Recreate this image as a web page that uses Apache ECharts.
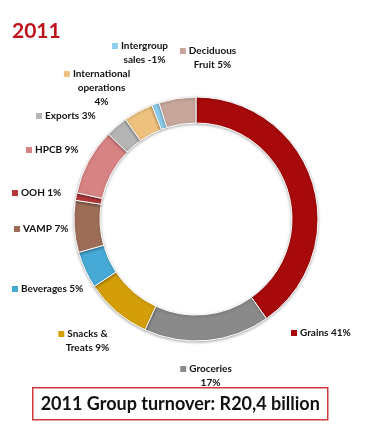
<!DOCTYPE html>
<html><head><meta charset="utf-8">
<script src="https://cdn.jsdelivr.net/npm/echarts@6/dist/echarts.min.js"></script>
<style>html,body{margin:0;padding:0;background:#fff;}#c{width:366px;height:434px;}</style>
</head><body><div id="c"></div>
<script>
const categories = ['Grains','Groceries','Snacks & Treats','Beverages','VAMP','OOH','HPCB','Exports','International operations','Intergroup sales','Deciduous Fruit'];
const labelLines = [['Grains 41%'],['Groceries','17%'],['Snacks &','Treats 9%'],['Beverages 5%'],['VAMP 7%'],['OOH 1%'],['HPCB 9%'],['Exports 3%'],['International','operations','4%'],['Intergroup','sales -1%'],['Deciduous','Fruit 5%']];
const shares = [41,17,9,5,7,1,9,3,4,-1,5];
const colors = ['#A80A0B','#8A8A8A','#D49E08','#47AAD6','#9E6D57','#B3393A','#D78384','#B4B4B4','#EEC17E','#8ECFEF','#C8A69B'];
// label placement: [x, yTop, align]
const labelPos = [[291,326,'left'],[206,362,'center'],[83,327,'center'],[12,282,'left'],[14,222,'left'],[12,186,'left'],[26,143,'left'],[36,109,'left'],[97,67,'center'],[140,39,'center'],[208,44,'center']];

const rich = { g:{width:3}, p:{width:9}, t:{fontFamily:'Lato',fontWeight:'bold',fontSize:10,color:'#111',lineHeight:14} };
colors.forEach((c,i)=>{ rich['m'+i] = {width:6,height:6,backgroundColor:c,verticalAlign:'middle'}; });

const data = categories.map((n,i)=>({
  name:n, value:Math.abs(shares[i]),
  itemStyle:{color:colors[i]},
  label:{formatter: labelLines[i].map((l,k)=> (k===0?'{m'+i+'|}{g|}':(labelPos[i][2]==='center'?'{p|}':'')) + '{t|'+l+'}').join('\n')}
}));

const chart = echarts.init(document.getElementById('c'));
chart.setOption({
  animation:false,
  title:{text:'2011',left:7,top:16,textStyle:{fontFamily:'Lato',fontWeight:'bold',fontSize:21,color:'#C0141B'}},
  series:[{
    type:'pie', center:[196,219], radius:[96,122], startAngle:90, clockwise:true,
    avoidLabelOverlap:false,
    itemStyle:{borderColor:'#fff',borderWidth:1,shadowBlur:3,shadowColor:'rgba(0,0,0,0.3)',shadowOffsetY:1},
    label:{show:true,position:'outside',rich:rich},
    labelLine:{show:false},
    labelLayout:function(p){ const lp=labelPos[p.dataIndex]; return {x:lp[0],y:lp[1],align:lp[2],verticalAlign:'top'}; },
    emphasis:{disabled:true},
    data:data
  }],
  graphic:[{type:'group',left:32,top:387,children:[
    {type:'rect',shape:{x:0,y:0,width:295,height:32},style:{fill:'#fff',stroke:'#D2383B',lineWidth:1.5}},
    {type:'text',x:147.5,y:16,style:{text:'2011 Group turnover: R20,4 billion',fontFamily:'Lato',fontWeight:'bold',fontSize:18,fill:'#111',align:'center',verticalAlign:'middle'}}
  ]}]
});
</script></body></html>
